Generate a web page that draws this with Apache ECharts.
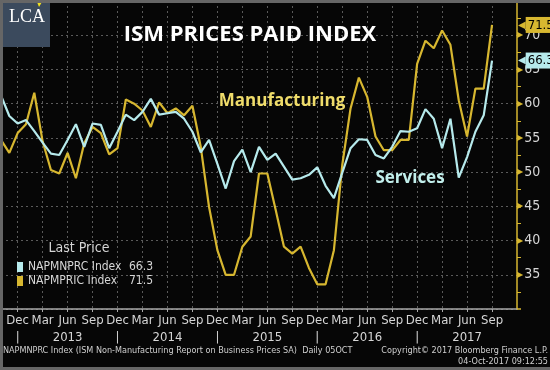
<!DOCTYPE html>
<html><head><meta charset="utf-8">
<script src="https://cdn.jsdelivr.net/npm/echarts@6/dist/echarts.min.js"></script>
<style>html,body{margin:0;padding:0;background:#060606;}#c{width:550px;height:370px;}</style>
</head><body><div id="c"></div>
<script>
// ---- data ----
const months = [
 "Oct 2012","Nov 2012","Dec 2012",
 "Jan 2013","Feb 2013","Mar 2013","Apr 2013","May 2013","Jun 2013","Jul 2013","Aug 2013","Sep 2013","Oct 2013","Nov 2013","Dec 2013",
 "Jan 2014","Feb 2014","Mar 2014","Apr 2014","May 2014","Jun 2014","Jul 2014","Aug 2014","Sep 2014","Oct 2014","Nov 2014","Dec 2014",
 "Jan 2015","Feb 2015","Mar 2015","Apr 2015","May 2015","Jun 2015","Jul 2015","Aug 2015","Sep 2015","Oct 2015","Nov 2015","Dec 2015",
 "Jan 2016","Feb 2016","Mar 2016","Apr 2016","May 2016","Jun 2016","Jul 2016","Aug 2016","Sep 2016","Oct 2016","Nov 2016","Dec 2016",
 "Jan 2017","Feb 2017","Mar 2017","Apr 2017","May 2017","Jun 2017","Jul 2017","Aug 2017","Sep 2017","Oct 2017","Nov 2017","Dec 2017"
];
const servicesName = "NAPMNPRC Index";
const manufacturingName = "NAPMPRIC Index";
const services = [61.2,58.2,57.1,57.6,56.0,54.3,52.7,52.5,54.7,57.0,
 53.7,57.1,56.9,53.5,55.9,58.4,57.6,58.8,60.7,58.4,
 58.6,58.8,57.8,55.9,52.9,54.7,51.2,47.6,51.6,53.3,
 50.0,53.7,51.8,52.7,50.8,48.9,49.1,49.6,50.7,48.0,
 46.2,49.9,53.5,54.8,54.7,52.5,52.0,53.7,56.0,55.9,
 56.4,59.2,57.8,53.5,57.8,49.2,52.2,55.9,58.3,66.3];
const manufacturing = [54.7,52.8,55.7,57.0,61.6,54.5,50.3,49.8,52.8,49.1,
 54.2,56.6,55.7,52.6,53.5,60.6,60.0,59.0,56.6,60.2,
 58.6,59.3,58.3,59.7,53.7,44.9,38.6,35.0,35.0,39.1,
 40.6,49.8,49.8,44.5,39.1,38.1,39.1,36.0,33.6,33.6,
 38.6,51.0,59.3,63.8,61.0,55.2,53.2,53.2,54.7,54.7,
 65.8,69.2,68.1,70.7,68.6,60.5,55.2,62.2,62.2,71.5];
const quarterMonths = ["Dec","Mar","Jun","Sep"];
const yTickLabels = [35,40,45,50,55,60,65,70];

// ---- style ----
const YEL = '#d7b730', CYA = '#b6eaec', TXT = '#d6d6d6';
const NARROW = "'Liberation Sans Narrow','DejaVu Sans Condensed','Liberation Sans',sans-serif";
const lastIdx = services.length - 1;
const showQ = (i, v) => i <= lastIdx && quarterMonths.includes(String(v).slice(0,3));
const showYearRow = (i, v) => i <= lastIdx && ['Jun','Dec'].includes(String(v).slice(0,3));

function endTag(color, value){
  return {
    silent:true, symbol:'none', animation:false,
    lineStyle:{width:1, color:'rgba(0,0,0,0)'},
    label:{show:true, position:'end', distance:1,
      formatter:p=>'{a|◀}{b|'+Number(p.value).toFixed(1)+'}',
      rich:{a:{color:color, fontSize:10, fontFamily:'DejaVu Sans'},
            b:{backgroundColor:color, color:'#000', fontSize:13, fontFamily:NARROW, padding:[2,3,1,2]}}},
    data:[{yAxis: value}]
  };
}

const chart = echarts.init(document.getElementById('c'), null, {renderer:'canvas'});
chart.setOption({
  animation:false,
  backgroundColor:'#060606',
  grid:{left:1, right:33, top:1, bottom:61},
  legend:{
    orient:'vertical', left:12, top:256, icon:'rect', itemWidth:6, itemHeight:10, itemGap:2,
    selectedMode:false,
    data:[servicesName, manufacturingName],
    formatter:n=>'{n|'+n+'}{v|'+(n===servicesName?services[lastIdx]:manufacturing[lastIdx]).toFixed(1)+'}',
    textStyle:{color:TXT, fontSize:12, fontFamily:NARROW,
      rich:{n:{color:TXT, fontSize:12, fontFamily:NARROW, width:101}, v:{color:TXT, fontSize:12, fontFamily:NARROW}}}
  },
  xAxis:[{
    type:'category', data:months, boundaryGap:false,
    axisLine:{show:true, lineStyle:{color:'#a8a8a8', width:1.5}},
    axisTick:{show:true, interval:showQ, length:3, lineStyle:{color:'#a8a8a8'}},
    splitLine:{show:true, interval:showQ, lineStyle:{color:'#5a5a5a', type:[2,3], width:1}},
    axisLabel:{
      interval:showQ, margin:5, color:TXT, fontFamily:NARROW, fontSize:13,
      hideOverlap:false, showMaxLabel:true, showMinLabel:true,
      formatter:v=>v.slice(0,3)
    }
  },{
    type:'category', data:months, boundaryGap:false, position:'bottom',
    axisLine:{show:false}, axisTick:{show:false}, splitLine:{show:false},
    axisLabel:{
      interval:showYearRow, margin:22, color:TXT, fontFamily:NARROW, fontSize:13,
      hideOverlap:false, showMaxLabel:true, showMinLabel:true,
      formatter:v=> v.slice(0,3)==='Dec' ? '|' : v.slice(4)
    }
  }],
  yAxis:{
    type:'value', position:'right', min:30, max:75, interval:5,
    axisLine:{show:true, lineStyle:{color:YEL, width:1.5}},
    axisTick:{show:true, length:4, lineStyle:{color:YEL, width:1.5}},
    minorTick:{show:true, splitNumber:2, length:4, lineStyle:{color:YEL, width:1}},
    splitLine:{show:true, lineStyle:{color:'#5a5a5a', type:[2,3], width:1}},
    axisLabel:{
      margin:0, color:TXT, fontFamily:NARROW, fontSize:14,
      formatter:v=> yTickLabels.includes(v) ? '{t|▶}{v|'+v+'}' : '',
      rich:{t:{color:YEL, fontSize:8, fontFamily:'DejaVu Sans', padding:[0,1,0,0]},
            v:{color:TXT, fontSize:14, fontFamily:NARROW}}
    }
  },
  series:[
    {name:manufacturingName, type:'line', data:manufacturing, symbol:'none', z:3, clip:false,
     lineStyle:{color:YEL, width:2.2}, itemStyle:{color:YEL}, emphasis:{disabled:true},
     markLine:endTag(YEL, manufacturing[lastIdx])},
    {name:servicesName, type:'line', data:services, symbol:'none', z:4, clip:false,
     lineStyle:{color:CYA, width:2.2}, itemStyle:{color:CYA}, emphasis:{disabled:true},
     markLine:endTag(CYA, services[lastIdx])}
  ],
  graphic:{elements:[
    {type:'rect', shape:{x:3,y:3,width:47,height:44}, style:{fill:'#3b4a5d'}, z:100},
    {type:'text', style:{x:27, y:17, text:'LCA', fill:'#ffffff', font:'18px "Liberation Serif", "DejaVu Serif", serif', textAlign:'center', textVerticalAlign:'middle'}, z:101},
    {type:'polygon', shape:{points:[[37,2],[42,2],[39,7]]}, style:{fill:'#f2e21c'}, z:102},
    {type:'text', style:{x:250, y:35, text:'ISM PRICES PAID INDEX', fill:'#ffffff', font:'bold 22px "Open Sans", sans-serif', textAlign:'center', textVerticalAlign:'middle'}, z:50},
    {type:'text', style:{x:282, y:101, text:'Manufacturing', fill:'#efdc6a', font:'bold 17px "Open Sans", sans-serif', textAlign:'center', textVerticalAlign:'middle'}, z:50},
    {type:'text', style:{x:410, y:178, text:'Services', fill:'#c2efec', font:'bold 17px "Open Sans", sans-serif', textAlign:'center', textVerticalAlign:'middle'}, z:50},
    {type:'text', style:{x:79, y:248, text:'Last Price', fill:TXT, font:'14px '+NARROW, textAlign:'center', textVerticalAlign:'middle'}, z:50},
    {type:'text', style:{x:3, y:351, text:'NAPMNPRC Index (ISM Non-Manufacturing Report on Business Prices SA)  Daily 05OCT', fill:'#cfcfcf', font:'9px '+NARROW, textAlign:'left', textVerticalAlign:'middle'}, z:50},
    {type:'text', style:{x:548, y:351, text:'Copyright© 2017 Bloomberg Finance L.P.', fill:'#cfcfcf', font:'9px '+NARROW, textAlign:'right', textVerticalAlign:'middle'}, z:50},
    {type:'text', style:{x:548, y:362, text:'04-Oct-2017 09:12:55', fill:'#cfcfcf', font:'9px '+NARROW, textAlign:'right', textVerticalAlign:'middle'}, z:50},
    {type:'rect', shape:{x:0,y:0,width:3,height:370}, style:{fill:'#666666'}, z:200},
    {type:'rect', shape:{x:0,y:0,width:550,height:3}, style:{fill:'#666666'}, z:200},
    {type:'rect', shape:{x:0,y:367,width:550,height:3}, style:{fill:'#666666'}, z:200}
  ]}
});
</script></body></html>
